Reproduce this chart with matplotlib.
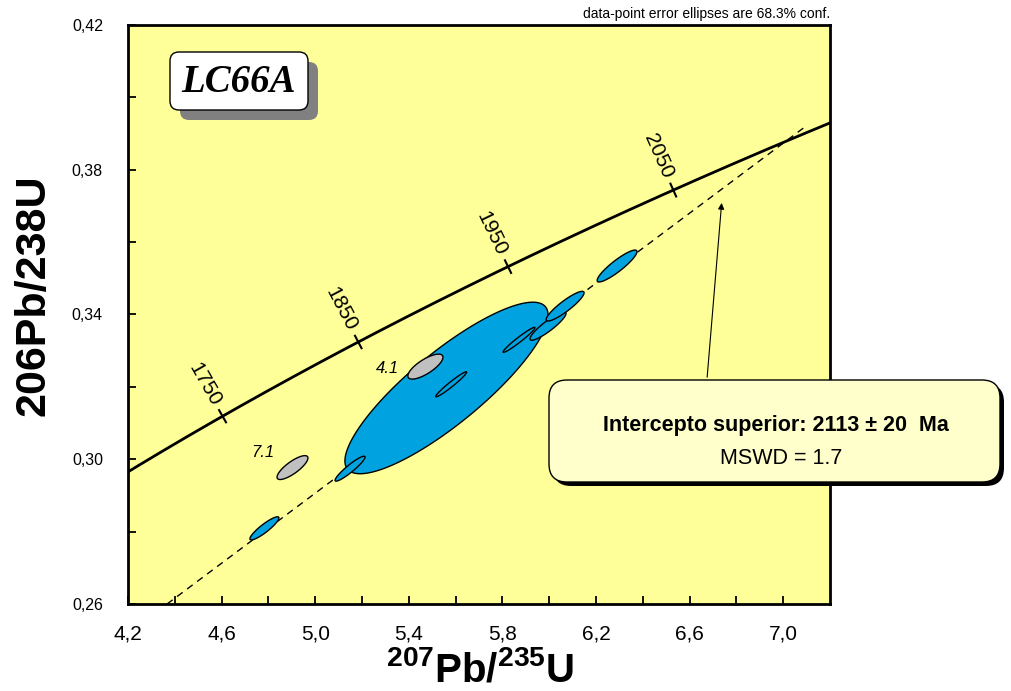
import numpy as np
import matplotlib
matplotlib.use("Agg")
from matplotlib import pyplot as plt
from matplotlib.patches import FancyBboxPatch
from matplotlib.ticker import FixedLocator, FuncFormatter

# decay constants (1/yr) used for the concordia curve
L238 = 1.55125e-10
L235 = 9.8485e-10

concordia_ticks = [1750, 1850, 1950, 2050]  # Ma

x_major = [4.2, 4.6, 5.0, 5.4, 5.8, 6.2, 6.6, 7.0]
x_minor = [4.4, 4.8, 5.2, 5.6, 6.0, 6.4, 6.8]
y_major = [0.26, 0.30, 0.34, 0.38, 0.42]
y_minor = [0.28, 0.32, 0.36, 0.40]

# discordia (lower end at the axis, upper end just past the upper intercept)
discordia_x = [4.367, 7.09]
discordia_y = [0.26, 0.3917]

# error ellipses: centre, half extents in x / y, correlation
ell_x = [5.561, 4.783, 5.149, 5.581, 5.871, 5.995, 6.068, 6.290, 5.471, 4.903]
ell_y = [0.3197, 0.2809, 0.2974, 0.3207, 0.3330, 0.3368, 0.3423, 0.3534, 0.3256, 0.2977]
ell_sx = [0.434, 0.062, 0.064, 0.066, 0.068, 0.077, 0.081, 0.085, 0.075, 0.066]
ell_sy = [0.0237, 0.0032, 0.00345, 0.00345, 0.00345, 0.0039, 0.0041, 0.0044, 0.00345, 0.0033]
ell_rho = [0.85, 0.9, 0.93, 0.97, 0.97, 0.9, 0.9, 0.9, 0.75, 0.8]
ell_used = [True, True, True, True, True, True, True, True, False, False]
ell_label = ["", "", "", "", "", "", "", "", "4.1", "7.1"]

arrow_tail = (6.674, 0.3219)
arrow_head = (6.738, 0.3716)

W, H = 1011, 691

plt.rcParams["font.family"] = ["Liberation Sans", "DejaVu Sans"]
plt.rcParams["mathtext.fontset"] = "custom"
plt.rcParams["mathtext.rm"] = "Liberation Sans:bold"
plt.rcParams["mathtext.bf"] = "Liberation Sans:bold"

fig = plt.figure(figsize=(W / 100, H / 100), dpi=100)
ax = fig.add_axes([128 / W, 87 / H, 702 / W, 579 / H])
ax.set_facecolor("#FFFF99")
ax.set_xlim(4.2, 7.2)
ax.set_ylim(0.26, 0.42)

for s in ax.spines.values():
    s.set_linewidth(2)

ax.xaxis.set_major_locator(FixedLocator(x_major))
ax.xaxis.set_minor_locator(FixedLocator(x_minor))
ax.yaxis.set_major_locator(FixedLocator(y_major))
ax.yaxis.set_minor_locator(FixedLocator(y_minor))
ax.xaxis.set_major_formatter(FuncFormatter(lambda v, p: f"{v:.1f}".replace(".", ",")))
ax.yaxis.set_major_formatter(FuncFormatter(lambda v, p: f"{v:.2f}".replace(".", ",")))
ax.tick_params(which="both", direction="in", length=6, width=1.3, top=False, right=False)
ax.tick_params(axis="y", pad=18, labelsize=11.5)
ax.tick_params(axis="x", pad=15, labelsize=15)

# concordia
ages = np.linspace(1400, 2400, 500) * 1e6
cx = np.exp(L235 * ages) - 1
cy = np.exp(L238 * ages) - 1
ax.plot(cx, cy, color="black", lw=2, zorder=3)

# discordia
ax.plot(discordia_x, discordia_y, color="black", lw=1, ls=(0, (5, 4)), zorder=2)

# age ticks on the concordia
inv = ax.transData.inverted()
for age in concordia_ticks:
    t = age * 1e6
    p = np.array([np.exp(L235 * t) - 1, np.exp(L238 * t) - 1])
    d = np.array([L235 * np.exp(L235 * t), L238 * np.exp(L238 * t)]) * 1e6
    p_d = ax.transData.transform(p)
    u = ax.transData.transform(p + d) - p_d
    u = u / np.hypot(*u)
    n = np.array([-u[1], u[0]])
    tick = inv.transform([p_d - 7 * n, p_d + 7 * n])
    ax.plot(tick[:, 0], tick[:, 1], color="black", lw=1.5, zorder=3)
    lp = inv.transform(p_d + 37 * n)
    ang = np.degrees(np.arctan2(u[1], u[0])) - 90
    ax.text(lp[0], lp[1], str(age), rotation=ang, rotation_mode="anchor",
            ha="center", va="center", fontsize=15, zorder=4)

# error ellipses
tt = np.linspace(0, 2 * np.pi, 300)
label_off = {"4.1": (-27, -1.5), "7.1": (-21, 11)}
for i in range(len(ell_x)):
    ex = ell_x[i] + ell_sx[i] * np.cos(tt)
    ey = ell_y[i] + ell_sy[i] * (ell_rho[i] * np.cos(tt) + np.sqrt(1 - ell_rho[i] ** 2) * np.sin(tt))
    fc = "#00A3E0" if ell_used[i] else "#C0C0C0"
    ax.fill(ex, ey, facecolor=fc, edgecolor="black", lw=1, zorder=5)
    if ell_label[i]:
        ax.annotate(ell_label[i], (ell_x[i], ell_y[i]), xytext=label_off[ell_label[i]],
                    textcoords="offset points", ha="center", va="center",
                    fontsize=12, style="italic", zorder=6)

ax.annotate("", xy=arrow_head, xytext=arrow_tail,
            arrowprops=dict(arrowstyle="-|>", color="black", lw=0.8, mutation_scale=9), zorder=4)


def px_box(left, top, right, bottom, radius, **kw):
    return FancyBboxPatch((left / W, 1 - bottom / H), (right - left) / W, (bottom - top) / H,
                          boxstyle=f"round,pad=0,rounding_size={radius / W}",
                          mutation_aspect=W / H, transform=fig.transFigure, **kw)


# sample name box
fig.add_artist(px_box(180, 62, 318, 120, 9, facecolor="#808080", edgecolor="none", zorder=6))
fig.add_artist(px_box(170, 52, 308, 110, 9, facecolor="white", edgecolor="black", lw=1, zorder=7))
fig.text(239 / W, 1 - 82 / H, "LC66A", family="Liberation Serif", style="italic",
         weight="bold", fontsize=28, ha="center", va="center", zorder=8)

# intercept box
fig.add_artist(px_box(553, 384, 1004, 486, 18, facecolor="black", edgecolor="none", zorder=6))
fig.add_artist(px_box(549, 380, 1000, 482, 18, facecolor="#FFFFCC", edgecolor="black", lw=1, zorder=7))
fig.text(776 / W, 1 - 425 / H, "Intercepto superior: 2113 ± 20  Ma", weight="bold",
         fontsize=15.5, ha="center", va="center", zorder=8)
fig.text(781 / W, 1 - 458 / H, "MSWD = 1.7", fontsize=15.5, ha="center", va="center", zorder=8)

fig.text(830 / W, 1 - 14 / H, "data-point error ellipses are 68.3% conf.", fontsize=10,
         ha="right", va="center")

fig.text(34 / W, 1 - 295 / H, "206Pb/238U", rotation=90, weight="bold", fontsize=31,
         ha="center", va="center")
fig.text(480 / W, 9 / H, r"$^{207}$Pb/$^{235}$U",
         weight="bold", fontsize=29, ha="center", va="baseline")

fig.savefig("out.png", dpi=100)
